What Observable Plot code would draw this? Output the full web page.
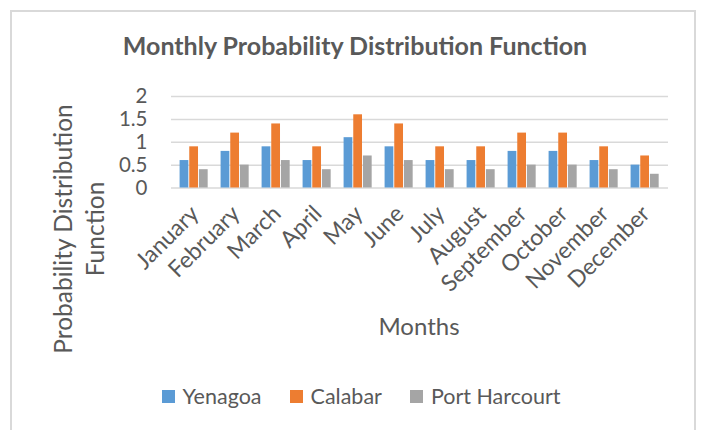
<!DOCTYPE html>
<html>
<head>
<meta charset="utf-8">
<script src="https://cdn.jsdelivr.net/npm/d3@7"></script>
<script src="https://cdn.jsdelivr.net/npm/@observablehq/plot@0.6"></script>
<style>
  html, body { margin: 0; padding: 0; background: #fff; }
  #wrap { position: relative; width: 702px; height: 430px; overflow: hidden; font-family: Lato, "Open Sans", sans-serif; color: #595959; }
  #frame { position: absolute; left: 10px; top: 10px; width: 686px; height: 440px; border: 2px solid #d9d9d9; border-bottom: none; box-sizing: border-box; }
  #chart { position: absolute; left: 0; top: 0; }
  .title { position: absolute; left: 0; width: 702px; top: 30px; text-align: center; font-weight: bold; font-size: 25px; margin-left: 4px; }
  .ytitle { position: absolute; left: 79px; top: 229px; transform: translate(-50%, -50%) rotate(-90deg); text-align: center; font-size: 24.5px; line-height: 32px; white-space: nowrap; }
  .xtitle { position: absolute; left: 419px; top: 325px; transform: translate(-50%, -50%); font-size: 24px; }
  .legend { position: absolute; left: 0; width: 702px; top: 383px; display: flex; justify-content: center; gap: 28px; font-size: 21.5px; margin-left: 10px; }
  .legend span.item { display: flex; align-items: center; }
  .legend span.sw { display: inline-block; width: 13px; height: 13px; margin-right: 8px; }
</style>
</head>
<body>
<div id="wrap">
  <div id="frame"></div>
  <div id="chart"></div>
  <div class="title" id="title"></div>
  <div class="ytitle" id="ytitle"></div>
  <div class="xtitle" id="xtitle"></div>
  <div class="legend" id="legend"></div>
</div>
<script>
const months = ["January","February","March","April","May","June","July","August","September","October","November","December"];
const seriesNames = ["Yenagoa","Calabar","Port Harcourt"];
const seriesColors = ["#5b9bd5","#ed7d31","#a5a5a5"];
const yenagoa      = [0.6,0.8,0.9,0.6,1.1,0.9,0.6,0.6,0.8,0.8,0.6,0.5];
const calabar      = [0.9,1.2,1.4,0.9,1.6,1.4,0.9,0.9,1.2,1.2,0.9,0.7];
const portHarcourt = [0.4,0.5,0.6,0.4,0.7,0.6,0.4,0.4,0.5,0.5,0.4,0.3];
const yTicks = [0, 0.5, 1, 1.5, 2];
const titleText = "Monthly Probability Distribution Function";
const yTitleLines = ["Probability Distribution", "Function"];
const xTitleText = "Months";

const seriesValues = [yenagoa, calabar, portHarcourt];
const rows = seriesNames.map((s, i) => months.map((m, j) => ({month: m, series: s, value: seriesValues[i][j]})));

const W = 702, H = 430;
const mL = 171, mR = 34, mT = 96, mB = 242.5;
const step = (W - mL - mR) / months.length;
const groupFrac = 0.70;            // share of the category taken by the 3 bars
const leftGap = step * 0.135;
const barW = step * groupFrac / seriesNames.length;

const barMarks = seriesNames.map((s, i) => Plot.barY(rows[i], {
  x: "month", y: "value", fill: seriesColors[i],
  insetLeft: leftGap + i * barW,
  insetRight: step - (leftGap + (i + 1) * barW) + 0.5
}));

const chart = Plot.plot({
  width: W, height: H,
  marginLeft: mL, marginRight: mR, marginTop: mT, marginBottom: mB,
  style: {fontFamily: "Lato, 'Open Sans', sans-serif", color: "#595959", background: "transparent", overflow: "visible"},
  x: {domain: months, padding: 0, label: null},
  y: {domain: [0, 2], label: null},
  marks: [
    Plot.ruleY(yTicks, {stroke: "#d9d9d9", strokeWidth: 1.5}),
    ...barMarks,
    Plot.axisY({ticks: yTicks, tickSize: 0, tickPadding: 24, fontSize: 20.5, label: null, tickFormat: d => String(d)}),
    Plot.axisX({tickSize: 0, tickRotate: -45, tickPadding: 22, fontSize: 23, label: null, dx: 0})
  ]
});
document.getElementById("chart").appendChild(chart);

document.getElementById("title").textContent = titleText;
document.getElementById("ytitle").innerHTML = yTitleLines.join("<br>");
document.getElementById("xtitle").textContent = xTitleText;
const legend = document.getElementById("legend");
seriesNames.forEach((s, i) => {
  const item = document.createElement("span");
  item.className = "item";
  const sw = document.createElement("span");
  sw.className = "sw";
  sw.style.background = seriesColors[i];
  item.appendChild(sw);
  item.appendChild(document.createTextNode(s));
  legend.appendChild(item);
});
</script>
</body>
</html>
